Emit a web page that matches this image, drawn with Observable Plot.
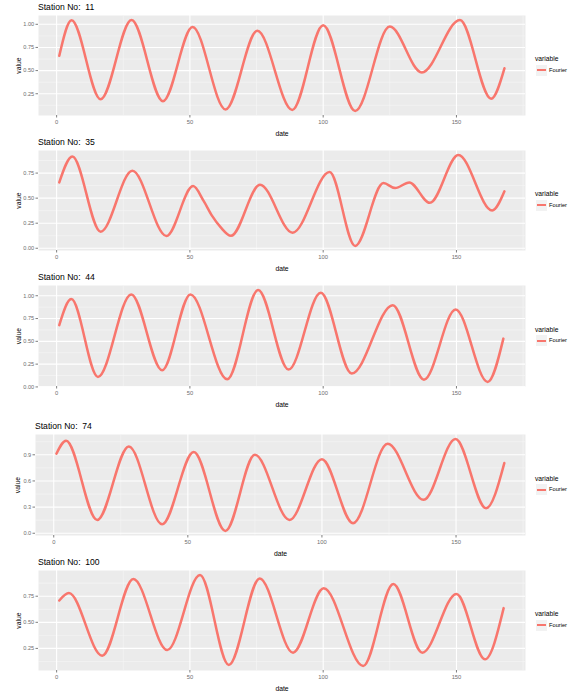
<!DOCTYPE html>
<html>
<head>
<meta charset="utf-8">
<script src="https://cdn.jsdelivr.net/npm/d3@7"></script>
<script src="https://cdn.jsdelivr.net/npm/@observablehq/plot@0.6"></script>
<style>
  body { margin: 0; background: #fff; font-family: "Liberation Sans", Arial, sans-serif; }
  #root { position: relative; width: 574px; height: 693px; overflow: hidden; }
  .title { position: absolute; font-size: 8.6px; line-height: 10px; color: #000; white-space: pre; }
  .legtitle { position: absolute; font-size: 6.7px; line-height: 8px; color: #000; white-space: pre; }
  .leglab { position: absolute; font-size: 5.7px; line-height: 7px; color: #000; white-space: pre; }
  .key { position: absolute; width: 11px; height: 11px; background: #F2F2F2; }
  .key div { position: absolute; left: 1px; top: 4.5px; width: 9px; height: 2px; }
  .panel { position: absolute; left: 0; }
  .panel svg { overflow: visible; }
  [aria-label="x-axis label"], [aria-label="y-axis label"] { fill: #000; font-size: 6.8px; }
</style>
</head>
<body>
<div id="root"></div>
<script>
// ---- data ----
const stationIds = ["11", "35", "44", "74", "100"];
const xTicks = [0, 50, 100, 150];
const xDomain = [-6.8, 175.9];

const date11 = [1, 5.6, 16.5, 28.1, 39.9, 51, 63.4, 75.3, 88.4, 100, 112, 125, 137, 151.3, 163, 168];
const value11 = [0.66, 1.043, 0.19, 1.046, 0.17, 0.97, 0.08, 0.93, 0.075, 0.99, 0.064, 0.975, 0.48, 1.046, 0.196, 0.525];
const yTicks11 = [0.25, 0.50, 0.75, 1.00];

const date35 = [1, 5.9, 16.5, 28.4, 41.2, 51.2, 55.2, 58.4, 61.5, 65.4, 76.3, 88.5, 102.4, 112, 122.6, 127, 132.3, 140, 150.7, 163.4, 168];
const value35 = [0.657, 0.915, 0.165, 0.773, 0.122, 0.62, 0.47, 0.32, 0.21, 0.124, 0.634, 0.155, 0.76, 0.023, 0.65, 0.60, 0.657, 0.453, 0.93, 0.377, 0.568];
const yTicks35 = [0.00, 0.25, 0.50, 0.75];

const date44 = [1, 5.5, 15.5, 28, 39.6, 50.2, 64, 75.6, 87, 99.1, 110.7, 126.1, 137.8, 149.7, 161.7, 167.6];
const value44 = [0.678, 0.963, 0.11, 1.015, 0.183, 1.015, 0.084, 1.062, 0.19, 1.033, 0.147, 0.897, 0.08, 0.85, 0.055, 0.53];
const yTicks44 = [0.00, 0.25, 0.50, 0.75, 1.00];

const date74 = [1, 4.6, 16.2, 28, 40.4, 52.2, 64, 75, 87.9, 100, 111.6, 124.5, 137.9, 149.8, 161.2, 168];
const value74 = [0.912, 1.061, 0.153, 0.996, 0.103, 0.931, 0.027, 0.90, 0.153, 0.85, 0.115, 1.027, 0.383, 1.08, 0.287, 0.805];
const yTicks74 = [0.0, 0.3, 0.6, 0.9];

const date100 = [1, 4.6, 17.1, 28.8, 41.5, 53.8, 64.6, 76.2, 88.7, 100.2, 115, 126.3, 137.2, 150, 160.7, 167.7];
const value100 = [0.709, 0.78, 0.18, 0.915, 0.234, 0.953, 0.092, 0.92, 0.209, 0.826, 0.082, 0.867, 0.209, 0.772, 0.146, 0.636];
const yTicks100 = [0.25, 0.50, 0.75];

const legendTitle = "variable";
const seriesName = "Fourier";
const seriesColor = "#F8766D";

// ---- layout ----
const dates = [date11, date35, date44, date74, date100];
const values = [value11, value35, value44, value74, value100];
const yTicksAll = [yTicks11, yTicks35, yTicks44, yTicks74, yTicks100];
const yFormats = [".2f", ".2f", ".2f", ".1f", ".2f"];
const plotTops = [15, 150, 285, 434, 570];
const plotHeights = [100, 100, 101, 101, 100];
const plotLefts = [38, 38, 38, 35, 38];
const yLabelOffsets = [22.4, 22.4, 22.4, 20.4, 22.4];
const plotRight = 525;
const mTop = 4, mBottom = 26;

function minorBreaks(ticks, domain) {
  const step = ticks[1] - ticks[0];
  const out = [];
  for (let k = -1; k < ticks.length; k++) {
    const v = ticks[0] + step * (k + 0.5);
    if (v > Math.min(...domain) && v < Math.max(...domain)) out.push(v);
  }
  return out;
}

const root = document.getElementById("root");

stationIds.forEach((id, i) => {
  const data = dates[i].map((d, j) => ({date: d, value: values[i][j], variable: seriesName}));
  const [lo, hi] = d3.extent(values[i]);
  const pad = (hi - lo) * 0.05;
  const yDomain = [lo - pad, hi + pad];
  const yTicks = yTicksAll[i];
  const ml = plotLefts[i];
  const width = plotRight + 4;
  const height = mTop + plotHeights[i] + mBottom;

  const chart = Plot.plot({
    width, height,
    marginLeft: ml, marginRight: 4, marginTop: mTop, marginBottom: mBottom,
    style: {fontFamily: '"Liberation Sans", Arial, sans-serif', background: "transparent", overflow: "visible"},
    x: {domain: xDomain},
    y: {domain: yDomain},
    marks: [
      Plot.frame({fill: "#EBEBEB", stroke: null}),
      Plot.gridY({ticks: minorBreaks(yTicks, yDomain), stroke: "#F7F7F7", strokeOpacity: 1, strokeWidth: 0.6}),
      Plot.gridX({ticks: minorBreaks(xTicks, xDomain), stroke: "#F7F7F7", strokeOpacity: 1, strokeWidth: 0.6}),
      Plot.gridY({ticks: yTicks, stroke: "#FFFFFF", strokeOpacity: 1, strokeWidth: 1.1}),
      Plot.gridX({ticks: xTicks, stroke: "#FFFFFF", strokeOpacity: 1, strokeWidth: 1.1}),
      Plot.axisX({ticks: xTicks, tickSize: 2.5, tickPadding: 2.3, stroke: "#7F7F7F", fill: "#6E6E6E",
        fontSize: 5.8, tickFormat: d3.format("d"),
        label: "date", labelAnchor: "center", labelArrow: "none", labelOffset: 20.4}),
      Plot.axisY({ticks: yTicks, tickSize: 2.5, tickPadding: 1.8, stroke: "#7F7F7F", fill: "#6E6E6E",
        fontSize: 5.6, tickFormat: d3.format(yFormats[i]),
        label: "value", labelAnchor: "center", labelArrow: "none", labelOffset: yLabelOffsets[i]}),
      Plot.line(data, {x: "date", y: "value", stroke: seriesColor, strokeWidth: 2.5, curve: "monotone-x"})
    ]
  });

  const wrap = document.createElement("div");
  wrap.className = "panel";
  wrap.style.top = (plotTops[i] - mTop) + "px";
  wrap.appendChild(chart);
  root.appendChild(wrap);

  const title = document.createElement("div");
  title.className = "title";
  title.style.left = ml + "px";
  title.style.top = (plotTops[i] - 13) + "px";
  title.textContent = "Station No:  " + id;
  root.appendChild(title);

  const center = plotTops[i] + plotHeights[i] / 2;
  const lt = document.createElement("div");
  lt.className = "legtitle";
  lt.style.left = "535px";
  lt.style.top = (center - 10) + "px";
  lt.textContent = legendTitle;
  root.appendChild(lt);

  const key = document.createElement("div");
  key.className = "key";
  key.style.left = "536px";
  key.style.top = (center - 0.5) + "px";
  const kl = document.createElement("div");
  kl.style.background = seriesColor;
  key.appendChild(kl);
  root.appendChild(key);

  const ll = document.createElement("div");
  ll.className = "leglab";
  ll.style.left = "549px";
  ll.style.top = (center + 1.5) + "px";
  ll.textContent = seriesName;
  root.appendChild(ll);
});
</script>
</body>
</html>
